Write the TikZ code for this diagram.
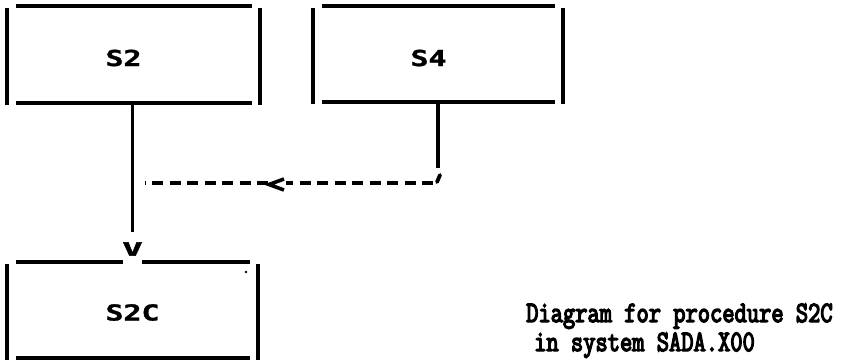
\documentclass[tikz,border=0pt]{standalone}
\usepackage{fontspec}
\newfontfamily\labfont{DejaVu Sans Mono}[FakeBold=1.2]
\newfontfamily\capfont{Latin Modern Mono}[FakeBold=5]
\usetikzlibrary{calc}
\tikzset{
  boxline/.style={line width=3.2bp},
  dashline/.style={line width=3.6bp, dash pattern=on 11bp off 6.5bp},
  boxarea/.style={draw=none, inner sep=0pt, outer sep=0pt, rectangle},
  lab/.style={inner sep=0pt, font=\labfont\bfseries\fontsize{22bp}{26bp}\selectfont},
  captext/.style={inner sep=0pt, anchor=base west, font=\capfont\fontsize{23.8bp}{28bp}\selectfont},
}
\newcommand\asciitop[1]{%
  \draw[boxline] ([xshift=9bp]#1.north west) -- ([xshift=-8bp]#1.north east);}
\newcommand\asciirest[1]{%
  \draw[boxline] ([xshift=9bp]#1.south west) -- ([xshift=-8bp]#1.south east);
  \draw[boxline] ([yshift=-2bp]#1.north west) -- ([yshift=-2bp]#1.south west);
  \draw[boxline] ([yshift=-2bp]#1.north east) -- ([yshift=-2bp]#1.south east);}
\begin{document}
\begin{tikzpicture}[x=1bp,y=-1bp]
\useasboundingbox (0,0) rectangle (843,362);
% boxes
\node[boxarea, minimum width=253bp, minimum height=97bp] (s2) at (133.5,54.5) {};
\node[boxarea, minimum width=250bp, minimum height=96bp] (s4) at (438,54) {};
\node[boxarea, minimum width=251bp, minimum height=96bp] (s2c) at (132.5,310) {};
\asciitop{s2}\asciirest{s2}
\asciitop{s4}\asciirest{s4}
\asciirest{s2c}
% labels
\node[lab] (s2t) at (123.5,58) {\scalebox{1.36}[1]{S2}};
\node[lab] (s4t) at (428.5,58) {\scalebox{1.36}[1]{S4}};
\node[lab] (s2ct) at (132.5,312.5) {\scalebox{1.36}[1]{S2C}};
% arrow head "v"
\node[lab] (v) at (132.5,249) {\scalebox{1.6}[1.1]{v}};
% split top of S2C
\draw[boxline] ([xshift=9bp]s2c.north west) -- ($(s2c.north -| v)+(-9.5,0)$);
\draw[boxline] ($(s2c.north -| v)+(9.5,0)$) -- ([xshift=-8bp]s2c.north east);
% S2 -> S2C connector
\draw[boxline] (s2.south -| v) -- ($(v.center)+(0,-17)$);
% S4 -> dashed connector
\coordinate (corner) at (438,168);
\draw[boxline] (corner |- s4.south) -- (corner);
\draw[line width=3.8bp, line cap=round] ($(corner)+(2,7)$) -- ($(corner)+(-1,14)$);
\coordinate (dR) at (433,183);
\coordinate (dL) at (145,183);
\coordinate (lt) at (269,184.5);
\draw[dashline] (dR) -- ($(lt)+(17,-1.5)$);
\draw[dashline] ($(lt)+(-1,-1.5)$) -- (dL);
\draw[line width=3.6bp, line join=miter] ($(lt)+(15,-5.5)$) -- (lt) -- ($(lt)+(15,5.5)$);
% speck
\fill (246,272) circle (1.3bp);
% caption
\node[captext] (c1) at (526,322) {\scalebox{1}[1.24]{Diagram for procedure S2C}};
\node[captext] (c2) at (534,351) {\scalebox{1}[1.24]{in system SADA.X00}};
\end{tikzpicture}
\end{document}
